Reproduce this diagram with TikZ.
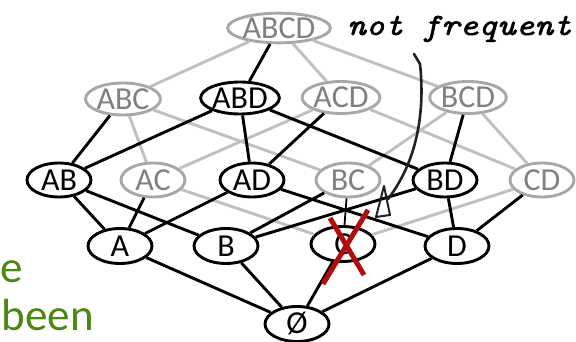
\documentclass[tikz,border=0pt]{standalone}
\usepackage{fontspec}
\setmainfont{Carlito}
\newfontfamily\handfont[Extension=.otf, FakeBold=1.6]{lmmono10-italic}
\usetikzlibrary{shapes.geometric}
\definecolor{edgegray}{RGB}{192,192,192}
\definecolor{nodegray}{RGB}{168,168,168}
\definecolor{textgray}{RGB}{128,128,128}
\definecolor{crossred}{RGB}{178,12,12}
\definecolor{notegreen}{RGB}{76,135,16}
\definecolor{pen}{RGB}{34,34,34}

\begin{document}
\begin{tikzpicture}[x=1pt,y=-1pt,
  itemset/.style={ellipse, draw=black, line width=2.9pt, fill=white, inner sep=0pt,
    font=\fontsize{32}{32}\selectfont},
  pruned/.style={itemset, draw=nodegray, text=textgray},
  top/.style={minimum width=99pt, minimum height=26pt},
  triple/.style={minimum width=74pt, minimum height=32pt},
  pair/.style={minimum width=64pt, minimum height=34pt},
  single/.style={minimum width=64pt, minimum height=35pt},
  live/.style={draw=black, line width=2.9pt},
  dead/.style={draw=edgegray, line width=2.9pt},
]
\useasboundingbox (0,0) rectangle (576,342);

% lattice of itemsets
\node[pruned, top]    (abcd) at (279,28)  {ABCD};
\node[pruned, triple] (abc)  at (123,99)  {ABC};
\node[itemset, triple](abd)  at (240,98)  {ABD};
\node[pruned, triple] (acd)  at (341,97.5){ACD};
\node[pruned, triple] (bcd)  at (468,97.5){BCD};
\node[itemset, pair]  (ab)   at (59,180)  {AB};
\node[pruned, pair]   (ac)   at (153,180) {AC};
\node[itemset, pair]  (ad)   at (252,180) {AD};
\node[pruned, pair]   (bc)   at (348,180) {BC};
\node[itemset, pair]  (bd)   at (445,180) {BD};
\node[pruned, pair]   (cd)   at (542,180) {CD};
\node[itemset, single](a)    at (120,246) {A};
\node[itemset, single](b)    at (226,246) {B};
\node[itemset, single](c)    at (343,244) {C};
\node[itemset, single](d)    at (457,246) {D};
\node[itemset, single](e0)   at (297,324) {Ø};

% supersets of the infrequent item
\foreach \u/\v in {abcd/abc, abcd/acd, abcd/bcd,
                   abc/ac, acd/ac, abc/bc, bcd/bc, acd/cd, bcd/cd,
                   ac/c, cd/c}
  \draw[dead] (\u) -- (\v);

% remaining candidate edges
\foreach \u/\v in {abcd/abd,
                   abc/ab, abd/ab, abd/ad, acd/ad, abd/bd, bcd/bd,
                   ab/a, ac/a, ad/a, ab/b, bc/b, bd/b, ad/d, bd/d, cd/d,
                   a/e0, b/e0, c/e0, d/e0}
  \draw[live] (\u) -- (\v);
\draw[black, line width=1.8pt] (bc) -- (c);

% C is crossed out
\draw[crossred, line width=5pt] (330,218) -- (364,275);
\draw[crossred, line width=5pt] (368,210) -- (323,284);

% handwritten note with its arrow
\node[anchor=base west, inner sep=0pt, font=\handfont\fontsize{31}{31}\selectfont]
  (note) at (347,35) {\scalebox{1.15}[1]{not frequent}};
\coordinate (penstart) at (414,54);
\coordinate (penend) at (388,199);
\coordinate (headtop) at (384,186);
\draw[pen, line width=2.6pt, line cap=round, line join=round]
  (penstart) -- (420,64) .. controls (425,110) and (418,160) .. (penend);
\draw[pen, line width=2pt, line join=round]
  (headtop) -- (376,217) -- (390,215) -- cycle;

% fragments of the slide text on the left
\node[anchor=base east, inner sep=0pt, text=notegreen, font=\fontsize{45}{45}\selectfont]
  (w1) at (23,282) {e};
\node[anchor=base east, inner sep=0pt, text=notegreen, font=\fontsize{45}{45}\selectfont]
  (w2) at (94,330) {been};
\end{tikzpicture}
\end{document}
